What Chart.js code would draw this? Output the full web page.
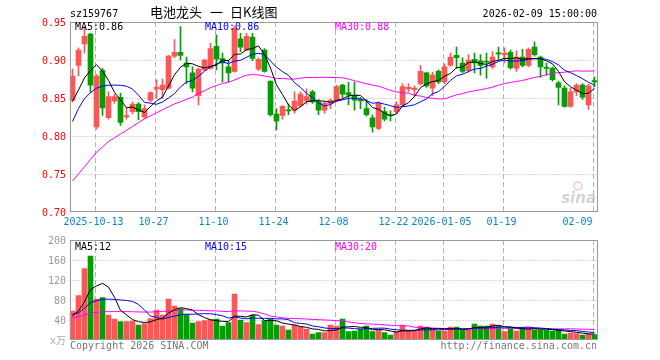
<!DOCTYPE html>
<html>
<head>
<meta charset="utf-8">
<script src="https://cdn.jsdelivr.net/npm/chart.js@4"></script>
<style>
  html, body { margin: 0; padding: 0; background: #fff; }
  #wrap { position: relative; width: 660px; height: 360px; }
  #wrap canvas { position: absolute; left: 0; }
</style>
</head>
<body>
<div id="wrap">
  <canvas id="kline" width="660" height="230" style="top:0"></canvas>
  <canvas id="vol" width="660" height="130" style="top:230px"></canvas>
</div>
<script>
const dates = [
  '2025-09-29','2025-09-30','2025-10-09','2025-10-10',
  '2025-10-13','2025-10-14','2025-10-15','2025-10-16','2025-10-17',
  '2025-10-20','2025-10-21','2025-10-22','2025-10-23','2025-10-24',
  '2025-10-27','2025-10-28','2025-10-29','2025-10-30','2025-10-31',
  '2025-11-03','2025-11-04','2025-11-05','2025-11-06','2025-11-07',
  '2025-11-10','2025-11-11','2025-11-12','2025-11-13','2025-11-14',
  '2025-11-17','2025-11-18','2025-11-19','2025-11-20','2025-11-21',
  '2025-11-24','2025-11-25','2025-11-26','2025-11-27','2025-11-28',
  '2025-12-01','2025-12-02','2025-12-03','2025-12-04','2025-12-05',
  '2025-12-08','2025-12-09','2025-12-10','2025-12-11','2025-12-12',
  '2025-12-15','2025-12-16','2025-12-17','2025-12-18','2025-12-19',
  '2025-12-22','2025-12-23','2025-12-24','2025-12-25','2025-12-26',
  '2025-12-29','2025-12-30','2025-12-31',
  '2026-01-05','2026-01-06','2026-01-07','2026-01-08','2026-01-09',
  '2026-01-12','2026-01-13','2026-01-14','2026-01-15','2026-01-16',
  '2026-01-19','2026-01-20','2026-01-21','2026-01-22','2026-01-23',
  '2026-01-26','2026-01-27','2026-01-28','2026-01-29','2026-01-30',
  '2026-02-02','2026-02-03','2026-02-04','2026-02-05','2026-02-06',
  '2026-02-09'
];

const opens = [
  0.847,0.893,0.921,0.934,0.812,0.886,0.824,0.846,0.851,0.825,
  0.832,0.842,0.825,0.847,0.862,0.861,0.863,0.905,0.910,0.896,
  0.883,0.853,0.887,0.889,0.918,0.902,0.891,0.885,0.928,0.913,
  0.930,0.888,0.913,0.872,0.829,0.827,0.834,0.834,0.840,0.846,
  0.858,0.845,0.834,0.843,0.847,0.867,0.857,0.854,0.848,0.836,
  0.824,0.810,0.832,0.828,0.832,0.841,0.862,0.861,0.869,0.883,
  0.863,0.885,0.871,0.893,0.906,0.896,0.886,0.901,0.899,0.898,
  0.891,0.909,0.907,0.910,0.889,0.904,0.893,0.917,0.904,0.890,
  0.889,0.870,0.863,0.839,0.858,0.867,0.841,0.873
];
const highs = [
  0.888,0.916,0.944,0.935,0.881,0.889,0.858,0.855,0.856,0.837,
  0.845,0.844,0.841,0.858,0.874,0.875,0.906,0.927,0.944,0.904,
  0.891,0.889,0.901,0.922,0.933,0.909,0.900,0.945,0.935,0.935,
  0.935,0.903,0.915,0.873,0.836,0.840,0.842,0.858,0.858,0.862,
  0.860,0.848,0.845,0.849,0.867,0.868,0.871,0.871,0.851,0.848,
  0.828,0.845,0.838,0.833,0.845,0.869,0.869,0.866,0.893,0.884,
  0.884,0.887,0.895,0.909,0.917,0.903,0.907,0.909,0.907,0.909,
  0.911,0.917,0.916,0.913,0.912,0.914,0.916,0.924,0.905,0.896,
  0.891,0.872,0.866,0.863,0.869,0.869,0.868,0.878
];
const lows = [
  0.845,0.879,0.909,0.857,0.809,0.827,0.822,0.843,0.814,0.822,
  0.829,0.821,0.823,0.845,0.850,0.849,0.862,0.903,0.900,0.869,
  0.858,0.841,0.886,0.888,0.887,0.871,0.871,0.884,0.911,0.912,
  0.899,0.886,0.884,0.826,0.808,0.822,0.828,0.830,0.838,0.842,
  0.843,0.828,0.830,0.836,0.845,0.850,0.841,0.834,0.836,0.826,
  0.805,0.808,0.820,0.820,0.830,0.839,0.858,0.852,0.867,0.864,
  0.853,0.869,0.869,0.892,0.889,0.883,0.884,0.883,0.880,0.876,
  0.889,0.900,0.896,0.888,0.885,0.891,0.891,0.905,0.877,0.880,
  0.872,0.841,0.838,0.838,0.853,0.848,0.835,0.865
];
const closes = [
  0.879,0.913,0.931,0.867,0.879,0.837,0.852,0.852,0.818,0.827,
  0.842,0.832,0.836,0.857,0.864,0.867,0.905,0.910,0.906,0.891,
  0.863,0.888,0.900,0.915,0.901,0.896,0.883,0.942,0.917,0.931,
  0.902,0.901,0.885,0.828,0.820,0.839,0.833,0.846,0.855,0.852,
  0.845,0.834,0.843,0.847,0.865,0.855,0.854,0.847,0.846,0.828,
  0.812,0.843,0.822,0.827,0.841,0.865,0.864,0.863,0.885,0.866,
  0.880,0.871,0.891,0.904,0.903,0.885,0.900,0.896,0.893,0.897,
  0.904,0.908,0.909,0.890,0.904,0.893,0.914,0.907,0.891,0.889,
  0.874,0.864,0.839,0.858,0.867,0.851,0.866,0.871
];
// closes before the visible window, estimated from where the MA lines start
const priorCloses = [
  0.63,0.65,0.58,0.59,0.63,0.64,0.70,0.67,0.68,0.69,
  0.68,0.69,0.74,0.74,0.75,0.79,0.79,0.82,0.80,0.77,
  0.74,0.80,0.79,0.82,0.81,0.84,0.85,0.82,0.84
];

// volume in 万
const volumes = [
  58,89,143,168,82,85,50,42,37,37,
  38,30,33,43,60,50,82,68,63,51,
  34,37,39,41,42,28,35,92,40,35,
  50,31,39,42,30,28,20,30,27,22,
  12,15,15,30,28,42,17,18,22,28,
  17,20,15,10,17,30,18,18,28,26,
  23,18,18,26,26,20,20,32,28,28,
  32,28,17,25,18,25,25,20,20,20,
  18,20,12,14,13,10,12,11
];
const priorVolumes = [
  40,45,48,42,38,44,40,36,42,46,
  40,38,44,42,40,45,43,39,41,44,
  52,50,55,48,56,45,50,46,47
];

const tickDates = ['2025-10-13','2025-10-27','2025-11-10','2025-11-24','2025-12-08',
                   '2025-12-22','2026-01-05','2026-01-19','2026-02-09'];
const tickLabels = ['2025-10-13','10-27','11-10','11-24','12-08',
                    '12-22','2026-01-05','01-19','02-09'];
const priceTicks = [0.95, 0.90, 0.85, 0.80, 0.75, 0.70];
const volTicks = [200, 160, 120, 80, 40];
const priceMaLabels = ['MA5:0.86', 'MA10:0.86', 'MA30:0.88'];
const volMaLabels = ['MA5:12', 'MA10:15', 'MA30:20'];

// --- styling ---
const UP = '#ff5555';
const DOWN = '#00a000';
const MA_COLORS = ['#000000', '#0000ff', '#ff00ff'];
const MONO = '10px "DejaVu Sans Mono", monospace';

// moving average over prior + visible values, one point per visible day
function movingAvg(prior, values, n) {
  const all = prior.concat(values);
  return values.map((_, i) => {
    const end = prior.length + i;
    let s = 0;
    for (let k = end - n + 1; k <= end; k++) s += all[k];
    return s / n;
  });
}

const candleColors = closes.map((c, i) => (c >= opens[i] ? UP : DOWN));
const wicks = lows.map((l, i) => [l, highs[i]]);
const bodies = opens.map((o, i) => [o, closes[i]]);

function maDatasets(prior, values) {
  return [5, 10, 30].map((n, k) => ({
    type: 'line',
    data: movingAvg(prior, values, n),
    borderColor: MA_COLORS[k],
    borderWidth: 1,
    pointRadius: 0,
    tension: 0,
    order: 0
  }));
}

// dotted horizontal + dashed vertical grid under the bars
function drawGrid(chart, ticks) {
  const { ctx, chartArea: a, scales: { x, y } } = chart;
  ctx.save();
  ctx.strokeStyle = '#b4b4b4';
  ctx.lineWidth = 1;
  ctx.setLineDash([1, 2]);
  ticks.forEach(v => {
    const py = Math.round(y.getPixelForValue(v)) + 0.5;
    if (py <= a.top + 2 || py >= a.bottom - 2) return;
    ctx.beginPath(); ctx.moveTo(a.left, py); ctx.lineTo(a.right, py); ctx.stroke();
  });
  ctx.setLineDash([5, 3]);
  tickDates.forEach(d => {
    const px = Math.round(x.getPixelForValue(dates.indexOf(d)) - 2) + 0.5;
    ctx.beginPath(); ctx.moveTo(px, a.top); ctx.lineTo(px, a.bottom); ctx.stroke();
  });
  ctx.restore();
}

function drawFrame(chart, ticks, fmt, color, maLabels, legendY) {
  const { ctx, chartArea: a, scales: { y } } = chart;
  ctx.save();
  ctx.strokeStyle = '#999';
  ctx.lineWidth = 1;
  const l = Math.round(a.left) + 0.5, t = Math.round(a.top) + 0.5;
  const r = Math.floor(a.right) + 0.5, b = Math.round(a.bottom) - 0.5;
  ctx.strokeRect(l, t, r - l, b - t);

  ctx.font = MONO;
  ctx.fillStyle = color;
  ctx.textAlign = 'right';
  ctx.textBaseline = 'middle';
  ticks.forEach(v => ctx.fillText(fmt(v), 66, y.getPixelForValue(v) + 1));

  ctx.textAlign = 'left';
  ctx.textBaseline = 'alphabetic';
  [75, 205, 335].forEach((lx, k) => {
    ctx.fillStyle = MA_COLORS[k];
    ctx.fillText(maLabels[k], lx, legendY);
  });
  ctx.restore();
}

const klineDecor = {
  id: 'klineDecor',
  beforeDatasetsDraw(chart) { drawGrid(chart, priceTicks); },
  afterDatasetsDraw(chart) {
    drawFrame(chart, priceTicks, v => v.toFixed(2), '#ff0000', priceMaLabels, 30);
    const { ctx, chartArea: a, scales: { x } } = chart;
    ctx.save();
    // date labels under the axis
    ctx.font = MONO;
    ctx.fillStyle = '#0a84d0';
    tickDates.forEach((d, k) => {
      const px = x.getPixelForValue(dates.indexOf(d)) - 2;
      const w = ctx.measureText(tickLabels[k]).width;
      ctx.textAlign = px + w / 2 > a.right ? 'right' : 'center';
      ctx.fillText(tickLabels[k], ctx.textAlign === 'right' ? px : px - 1, 225);
    });
    // header line
    ctx.fillStyle = '#000';
    ctx.textAlign = 'left';
    ctx.fillText('sz159767', 70, 16.5);
    ctx.textAlign = 'right';
    ctx.fillText('2026-02-09 15:00:00', 597, 16.5);
    ctx.font = '13px "Noto Sans CJK SC", sans-serif';
    ctx.textAlign = 'left';
    ctx.fillText('电池龙头', 150, 17);
    ctx.fillText('一', 210, 17);
    ctx.fillText('日K线图', 230, 17);
    // sina watermark, bottom right of the price panel
    ctx.globalAlpha = 0.45;
    ctx.strokeStyle = '#e08080';
    ctx.lineWidth = 1.5;
    ctx.beginPath(); ctx.arc(578, 186, 4, 0, Math.PI * 2); ctx.stroke();
    ctx.fillStyle = '#a0a0a0';
    ctx.font = 'italic bold 15px "DejaVu Sans", sans-serif';
    ctx.textAlign = 'right';
    ctx.fillText('sina', 596, 203);
    ctx.restore();
  }
};

const volDecor = {
  id: 'volDecor',
  beforeDatasetsDraw(chart) { drawGrid(chart, volTicks); },
  afterDatasetsDraw(chart) {
    drawFrame(chart, volTicks, v => String(v), '#999', volMaLabels, 250 - 230);
    const { ctx } = chart;
    ctx.save();
    ctx.font = '10px "DejaVu Sans Mono", "Noto Sans CJK SC", monospace';
    ctx.fillStyle = '#aaa';
    ctx.textAlign = 'right';
    ctx.fillText('x万', 66, 344 - 230);
    ctx.fillStyle = '#777';
    ctx.font = MONO;
    ctx.textAlign = 'left';
    ctx.fillText('Copyright 2026 SINA.COM', 70, 349 - 230);
    ctx.textAlign = 'right';
    ctx.fillText('http://finance.sina.com.cn', 597, 349 - 230);
    ctx.restore();
  }
};

const baseOptions = (padding, min, max) => ({
  responsive: false,
  animation: false,
  devicePixelRatio: 1,
  layout: { padding },
  scales: {
    x: { type: 'category', display: false, offset: true },
    y: { display: false, min, max }
  },
  plugins: { legend: { display: false }, tooltip: { enabled: false } }
});

new Chart(document.getElementById('kline'), {
  type: 'bar',
  data: {
    labels: dates,
    datasets: [
      ...maDatasets(priorCloses, closes),
      { data: bodies, backgroundColor: candleColors, barThickness: 5, grouped: false,
        minBarLength: 1, borderWidth: 0, order: 1 },
      { data: wicks, backgroundColor: candleColors, barThickness: 1, grouped: false,
        borderWidth: 0, order: 2 }
    ]
  },
  options: baseOptions({ left: 69.5, right: 62.5, top: 22, bottom: 18 }, 0.70, 0.95),
  plugins: [klineDecor]
});

new Chart(document.getElementById('vol'), {
  type: 'bar',
  data: {
    labels: dates,
    datasets: [
      ...maDatasets(priorVolumes, volumes),
      { data: volumes, backgroundColor: candleColors, barThickness: 5, grouped: false,
        borderWidth: 0, order: 1 }
    ]
  },
  options: baseOptions({ left: 69.5, right: 62.5, top: 10, bottom: 20 }, 0, 200),
  plugins: [volDecor]
});
</script>
</body>
</html>
